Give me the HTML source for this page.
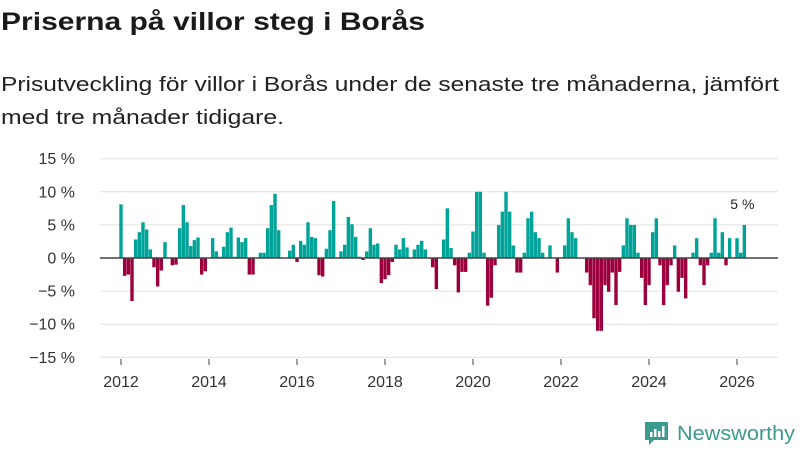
<!DOCTYPE html>
<html><head><meta charset="utf-8"><style>
html,body{margin:0;padding:0;background:#fff;}
svg{display:block;font-family:"Liberation Sans",sans-serif;}
</style></head><body>
<svg id="chart" width="800" height="450" viewBox="0 0 800 450">
<text x="1" y="30" font-size="25" font-weight="bold" fill="#1a1a1a" textLength="424" lengthAdjust="spacingAndGlyphs">Priserna på villor steg i Borås</text>
<text x="1" y="91" font-size="20" fill="#222" textLength="778" lengthAdjust="spacingAndGlyphs">Prisutveckling för villor i Borås under de senaste tre månaderna, jämfört</text>
<text x="1" y="124" font-size="20" fill="#222" textLength="283" lengthAdjust="spacingAndGlyphs">med tre månader tidigare.</text>
<g id="grid"></g>
<g id="bars"></g>
<g id="xaxis"></g>
<g>
<path d="M645 422 h23 v18 h-14 l-5 5 v-5 h-4 z" fill="#3d9a8f"/>
<rect x="650" y="432" width="2.5" height="5" fill="#fff"/><rect x="654" y="429" width="2.5" height="8" fill="#fff"/><rect x="658" y="431" width="2.5" height="6" fill="#fff"/><rect x="662" y="426" width="2.5" height="11" fill="#fff"/>
<text x="677" y="440" font-size="20" fill="#3d9a8f" textLength="118" lengthAdjust="spacingAndGlyphs">Newsworthy</text>
</g>
</svg>
<script>
const yTicks=[15,10,5,0,-5,-10,-15];
const yTickLabels=["15 %","10 %","5 %","0 %","−5 %","−10 %","−15 %"];
const xYears=[2012,2014,2016,2018,2020,2022,2024,2026];
const startYear=2012;
const values=[8.1,-2.7,-2.5,-6.5,2.8,3.9,5.4,4.3,1.3,-1.4,-4.3,-1.9,
2.4,0,-1.1,-1.0,4.5,8.0,5.4,1.8,2.7,3.1,-2.5,-2.0,
0,3.0,1.0,0.2,1.7,3.9,4.6,0.2,3.1,2.4,3.0,-2.5,
-2.5,0,0.8,0.8,4.5,8.0,9.7,4.2,0,0,1.1,2.0,
-0.6,2.6,2.0,5.4,3.2,3.0,-2.6,-2.8,1.4,4.2,8.6,0,
1.0,2.0,6.2,5.1,3.2,0.2,-0.3,1.0,4.5,2.0,2.2,-3.8,
-3.2,-2.6,-0.6,2.0,1.3,3.0,1.6,0,1.3,2.0,2.6,1.3,
0,-1.4,-4.7,0,2.8,7.5,1.5,-1.1,-5.2,-2.1,-2.1,0.8,
4.0,10,10,0.8,-7.2,-6.0,-1.1,5.0,7.0,10,7.0,1.9,
-2.2,-2.2,0.8,6.0,7.0,3.9,3.0,0.8,0,1.9,0,-2.2,
0,1.9,6.0,3.9,3.0,0,0,-2.2,-4.1,-9.1,-11,-11,
-4.1,-5.1,-2.2,-7.1,-2.1,1.9,6.0,5.0,5.0,0.8,-3.0,-7.1,
-4.1,3.9,6.0,-1.1,-7.1,-4.1,-1.1,1.9,-5.1,-3.0,-6.1,0,
0.8,3.0,-1.1,-4.1,-1.1,0.8,6.0,0.8,3.9,-1.1,3.0,0,
3.0,0.8,5.0];
const NS="http://www.w3.org/2000/svg";
const y=v=>258-v*6.62;
const xm=i=>121+i*(616/168);
const grid=document.getElementById('grid');
yTicks.forEach((t,k)=>{
  const l=document.createElementNS(NS,'line');
  l.setAttribute('x1',100);l.setAttribute('x2',778);
  l.setAttribute('y1',y(t));l.setAttribute('y2',y(t));
  l.setAttribute('stroke','#e0e0e0');l.setAttribute('stroke-width',1);
  
  
  grid.appendChild(l);
  const tx=document.createElementNS(NS,'text');
  tx.setAttribute('x',75);tx.setAttribute('y',y(t)+5.5);
  tx.setAttribute('text-anchor','end');tx.setAttribute('font-size',16);tx.setAttribute('fill','#333');
  tx.textContent=yTickLabels[k];
  
  
  grid.appendChild(tx);
});
const bars=document.getElementById('bars');
values.forEach((v,i)=>{
  if(v===0)return;
  const r=document.createElementNS(NS,'rect');
  const x0=xm(i)-1.7;
  r.setAttribute('x',x0);r.setAttribute('width',3.4);
  r.setAttribute('y',Math.min(y(v),y(0)));r.setAttribute('height',Math.abs(y(v)-y(0)));
  r.setAttribute('fill',v>0?'#00a398':'#9c003c');
  
  
  bars.appendChild(r);
});
const z=document.createElementNS(NS,'line');
z.setAttribute('x1',100);z.setAttribute('x2',778);z.setAttribute('y1',y(0));z.setAttribute('y2',y(0));
z.setAttribute('stroke','#444');z.setAttribute('stroke-width',1.5);


bars.appendChild(z);
const last=values.length-1;
const lab=document.createElementNS(NS,'text');
lab.setAttribute('x',xm(last)-2);lab.setAttribute('y',y(values[last])-16);
lab.setAttribute('text-anchor','middle');lab.setAttribute('font-size',14);lab.setAttribute('fill','#222');
lab.textContent=values[last]+' %';


bars.appendChild(lab);
const xa=document.getElementById('xaxis');
xYears.forEach(yr=>{
  const i=(yr-startYear)*12;
  const tk=document.createElementNS(NS,'line');
  tk.setAttribute('x1',xm(i));tk.setAttribute('x2',xm(i));tk.setAttribute('y1',359);tk.setAttribute('y2',365);
  tk.setAttribute('stroke','#444');
  
  
  xa.appendChild(tk);
  const t=document.createElementNS(NS,'text');
  t.setAttribute('x',xm(i));t.setAttribute('y',387);t.setAttribute('text-anchor','middle');
  t.setAttribute('font-size',16);t.setAttribute('fill','#333');
  t.textContent=yr;
  
  
  xa.appendChild(t);
});
</script>
</body></html>
